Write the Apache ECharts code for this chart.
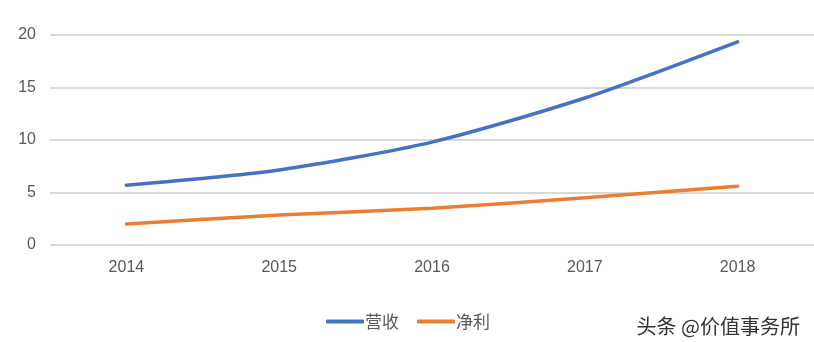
<!DOCTYPE html>
<html>
<head>
<meta charset="utf-8">
<script src="https://cdn.jsdelivr.net/npm/echarts@6/dist/echarts.min.js"></script>
<style>
html,body{margin:0;padding:0;background:#fff;}
#chart{width:814px;height:342px;}
</style>
</head>
<body>
<div id="chart"></div>
<script>
// Annual revenue and net profit
const years = ['2014', '2015', '2016', '2017', '2018'];
const revenue = [5.7, 7.15, 9.8, 14.0, 19.35];
const netProfit = [2.0, 2.85, 3.5, 4.5, 5.6];
const yTicks = { min: 0, max: 20, interval: 5 };

const chart = echarts.init(document.getElementById('chart'));
const numFont = '"Liberation Sans", "Noto Sans CJK SC", sans-serif';
const cjkFont = '"Noto Sans CJK SC", "Liberation Sans", sans-serif';
chart.setOption({
  animation: false,
  textStyle: { fontFamily: cjkFont },
  grid: { left: 50, right: -4, top: 35, bottom: 97 },
  legend: {
    bottom: 7,
    left: 321,
    itemWidth: 38,
    itemHeight: 4,
    itemGap: 18,
    icon: 'roundRect',
    textStyle: { fontSize: 17, color: '#595959', fontFamily: cjkFont, padding: [0, 0, 0, -4] },
    data: ['营收', '净利']
  },
  xAxis: {
    type: 'category',
    data: years,
    boundaryGap: true,
    axisLine: { show: false },
    axisTick: { show: false },
    axisLabel: { color: '#595959', fontSize: 16, margin: 15, fontFamily: numFont }
  },
  yAxis: {
    type: 'value',
    min: yTicks.min,
    max: yTicks.max,
    interval: yTicks.interval,
    axisLabel: { color: '#595959', fontSize: 16, margin: 14, fontFamily: numFont, padding: [3, 0, 0, 0] },
    splitLine: { lineStyle: { color: '#d9d9d9', width: 2 } },
    axisLine: { show: false },
    axisTick: { show: false }
  },
  graphic: [{
    type: 'text',
    right: 14,
    bottom: 6,
    style: { text: '头条 @价值事务所', fill: '#333', fontSize: 20, fontFamily: cjkFont }
  }],
  series: [
    {
      name: '营收', type: 'line', data: revenue, smooth: 0.25,
      symbol: 'none', color: '#4472C4',
      lineStyle: { width: 3.5, cap: 'round' }
    },
    {
      name: '净利', type: 'line', data: netProfit, smooth: 0.25,
      symbol: 'none', color: '#ED7D31',
      lineStyle: { width: 3.5, cap: 'round' }
    }
  ]
});
</script>
</body>
</html>
